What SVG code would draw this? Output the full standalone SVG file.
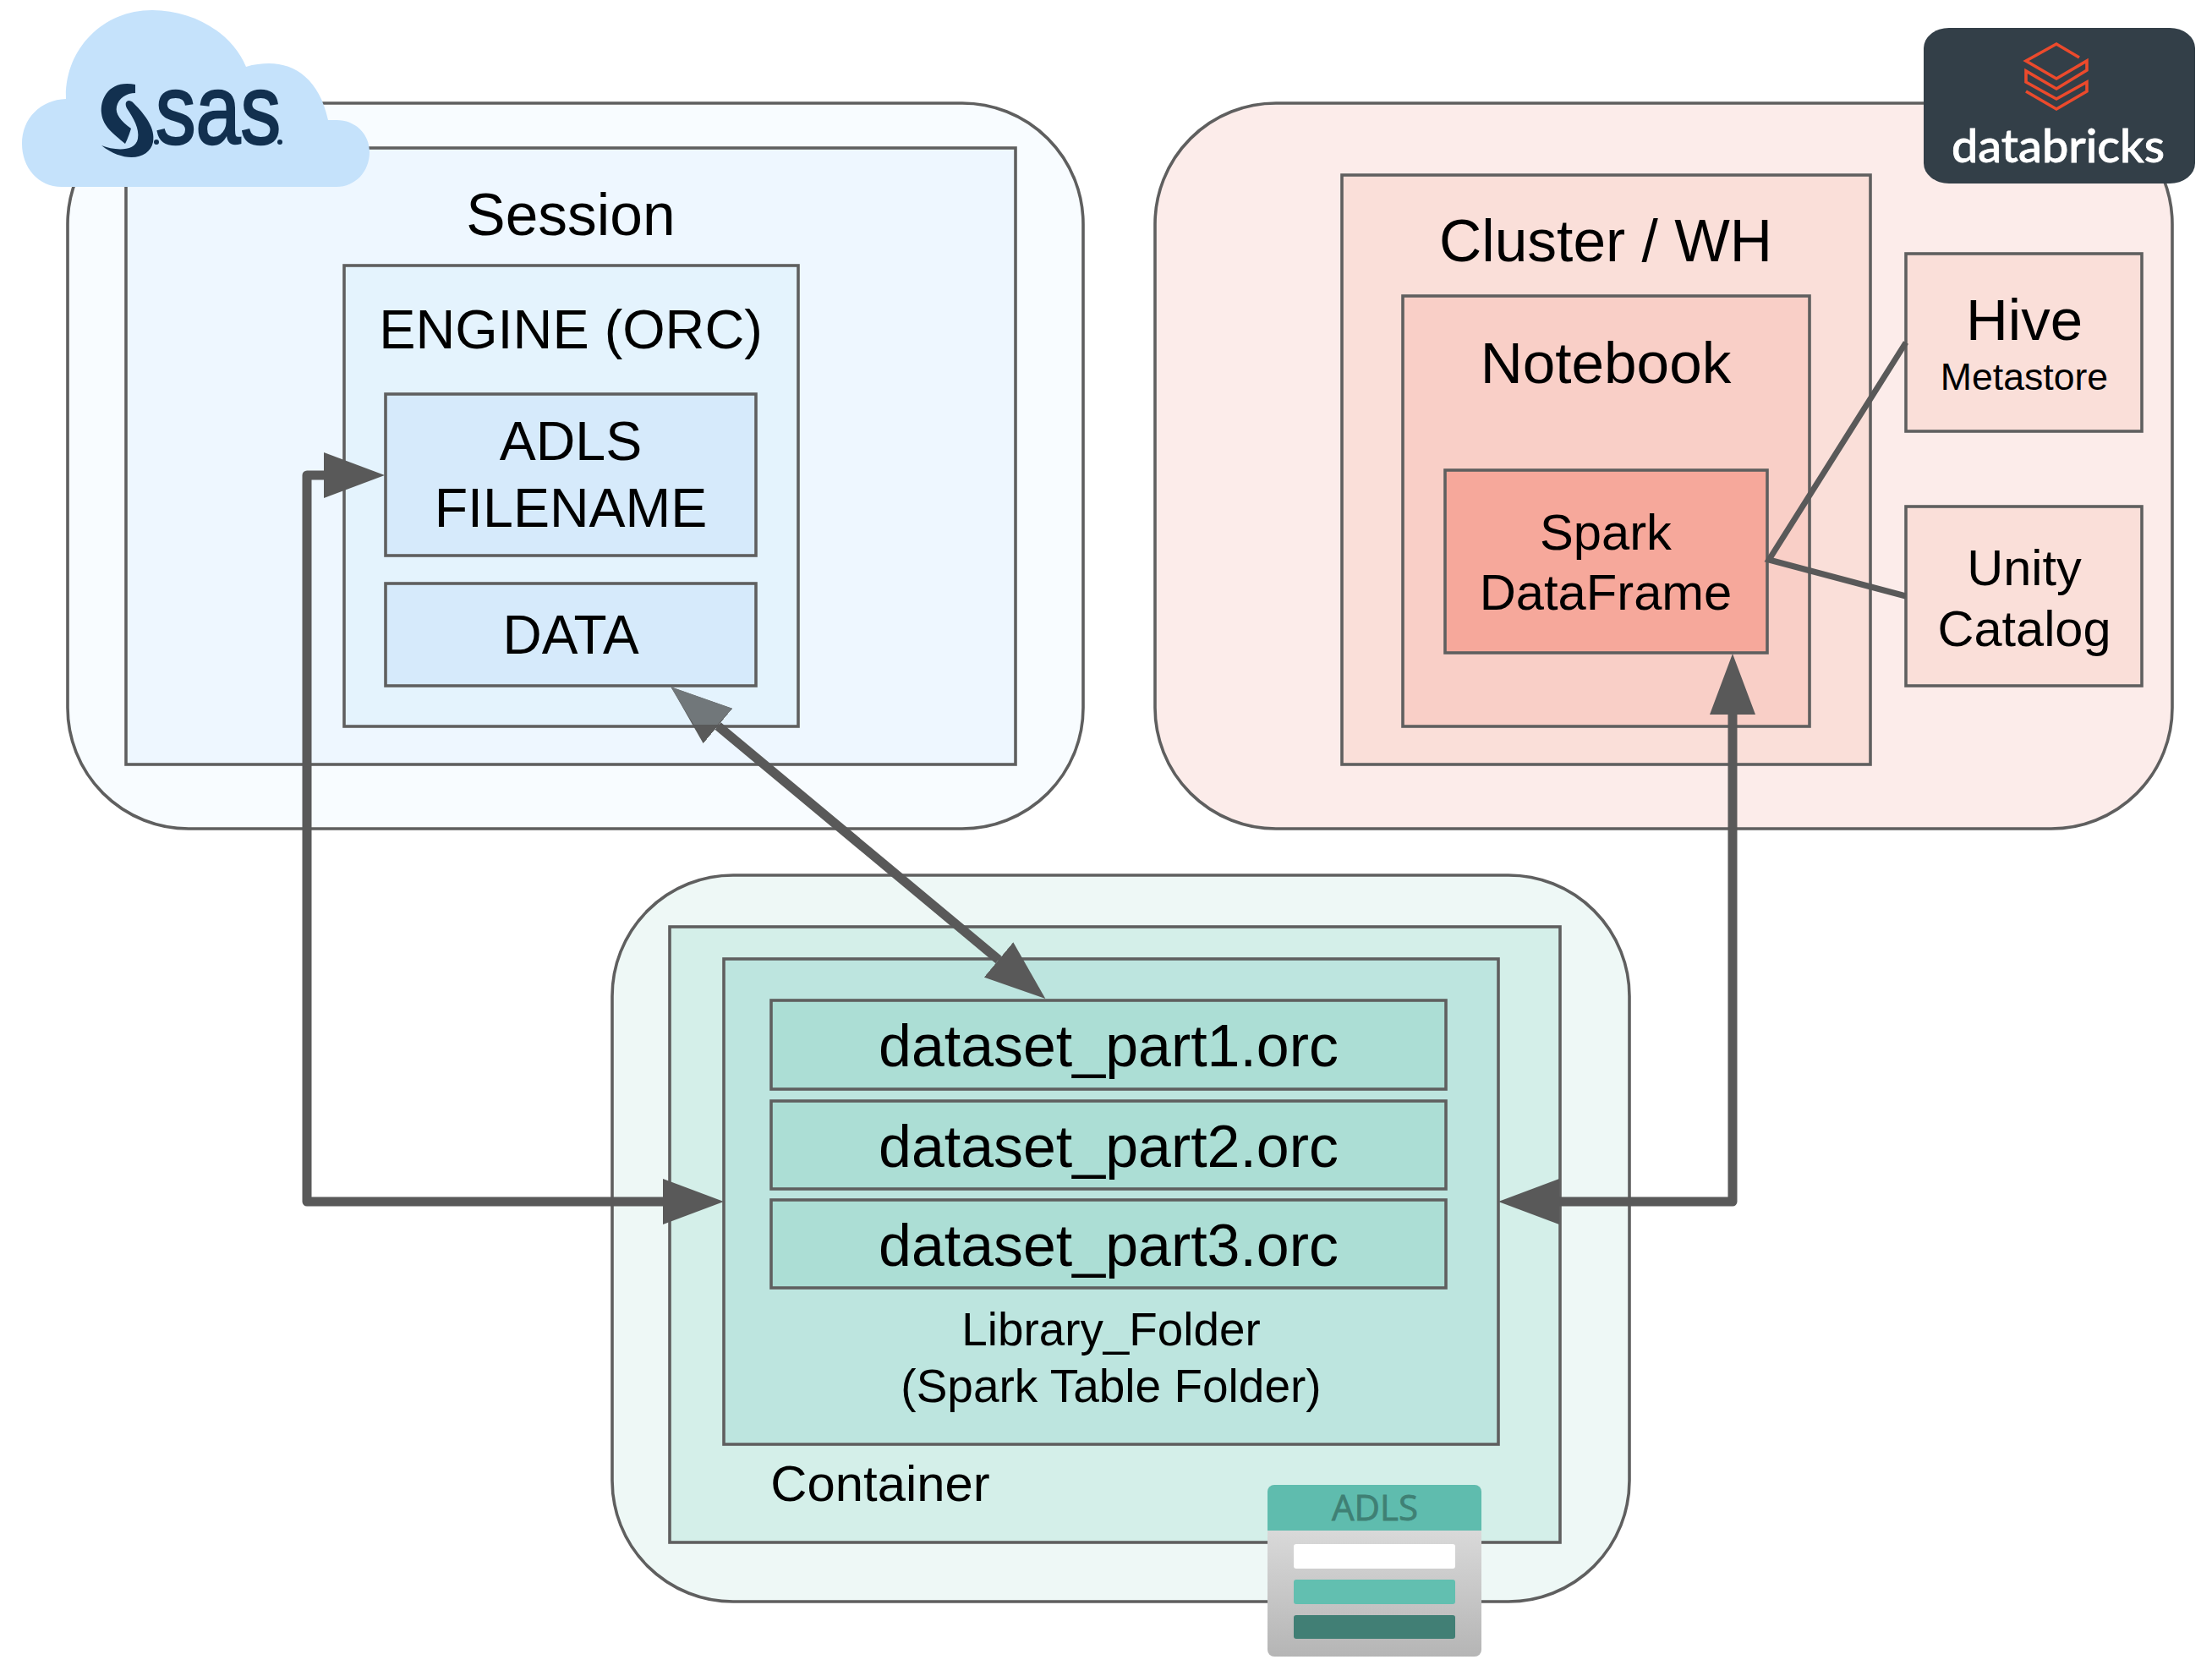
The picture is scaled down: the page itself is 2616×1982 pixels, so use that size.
<svg xmlns="http://www.w3.org/2000/svg" width="2616" height="1982" viewBox="0 0 2616 1982">
<style>
.b{stroke:#5f5f5f;stroke-width:3.6}
text{font-family:"Liberation Sans",Arial,sans-serif;fill:#000;text-anchor:middle}
.c{fill:none;stroke:#595959;stroke-width:11;stroke-linejoin:round}
.t{fill:none;stroke:#595959;stroke-width:7}
.o{fill:none;stroke:#ec4a2c;stroke-width:3.6}
</style>
<defs>
<marker id="arrow" markerUnits="userSpaceOnUse" markerWidth="74" markerHeight="54" viewBox="0 0 74 54" refX="0" refY="27" orient="auto-start-reverse"><path d="M0,0 L72,27 L0,54 Z" fill="#595959"/></marker>
<linearGradient id="gray" x1="0" y1="0" x2="0" y2="1"><stop offset="0" stop-color="#e6e6e6"/><stop offset="1" stop-color="#b5b5b5"/></linearGradient>
</defs>
<rect width="2616" height="1982" fill="#fff"/>
<g id="sas-env"><rect class="b" x="80" y="122" width="1201" height="858" rx="143" fill="#f8fcff"/></g>
<g id="session"><rect class="b" x="149" y="175" width="1052" height="729" fill="#eef7ff"/><text x="675" y="278" font-size="69.500">Session</text></g>
<g id="engine"><rect class="b" x="407" y="314" width="537" height="545" fill="#e4f3fd"/><text x="675" y="412" font-size="64.800">ENGINE (ORC)</text></g>
<g id="adls-filename"><rect class="b" x="456" y="466" width="438" height="191" fill="#d6eafb"/><text x="675" y="544" font-size="64.500">ADLS</text><text x="675" y="623" font-size="64.500">FILENAME</text></g>
<g id="data"><rect class="b" x="456" y="690" width="438" height="121" fill="#d6eafb"/><text x="675" y="773" font-size="64">DATA</text></g>
<g id="databricks-env"><rect class="b" x="1366" y="122" width="1203" height="858" rx="143" fill="#fcecea"/></g>
<g id="cluster"><rect class="b" x="1587" y="207" width="625" height="697" fill="#fadfd9"/><text x="1899" y="309" font-size="69.500">Cluster / WH</text></g>
<g id="notebook"><rect class="b" x="1659" y="350" width="481" height="509" fill="#f9cfc7"/><text x="1899" y="453" font-size="69.300">Notebook</text></g>
<g id="spark"><rect class="b" x="1709" y="556" width="381" height="216" fill="#f6a89b"/><text x="1899" y="650" font-size="59.700">Spark</text><text x="1899" y="721" font-size="59.700">DataFrame</text></g>
<g id="hive"><rect class="b" x="2254" y="300" width="279" height="210" fill="#fadfd9"/><text x="2394" y="402" font-size="69">Hive</text><text x="2394" y="461" font-size="44.600">Metastore</text></g>
<g id="unity"><rect class="b" x="2254" y="599" width="279" height="212" fill="#fadfd9"/><text x="2394" y="692" font-size="59.500">Unity</text><text x="2394" y="764" font-size="59.500">Catalog</text></g>
<g id="adls-env"><rect class="b" x="724" y="1035" width="1203" height="859" rx="143" fill="#eef8f6"/></g>
<g id="container"><rect class="b" x="792" y="1096" width="1053" height="728" fill="#d4efe9"/><text x="1041" y="1775" font-size="59.800">Container</text></g>
<g id="library"><rect class="b" x="856" y="1134" width="916" height="574" fill="#bde5df"/><text x="1314" y="1591" font-size="54.800">Library_Folder</text><text x="1314" y="1658" font-size="55">(Spark Table Folder)</text></g>
<g id="part1"><rect class="b" x="912" y="1183" width="798" height="105" fill="#acded5"/><text x="1311" y="1261" font-size="69.900">dataset_part1.orc</text></g>
<g id="part2"><rect class="b" x="912" y="1302" width="798" height="104" fill="#acded5"/><text x="1311" y="1380" font-size="69.900">dataset_part2.orc</text></g>
<g id="part3"><rect class="b" x="912" y="1419" width="798" height="104" fill="#acded5"/><text x="1311" y="1497" font-size="69.900">dataset_part3.orc</text></g>
<g id="connectors">
<path class="c" d="M383,562 H363 V1421 H784" marker-start="url(#arrow)" marker-end="url(#arrow)"/>
<path class="c" d="M2049,845 V1421 H1844" marker-start="url(#arrow)" marker-end="url(#arrow)"/>
<path class="c" d="M849,858.500 L1181,1135" marker-start="url(#arrow)" marker-end="url(#arrow)"/>
<path d="M793,812 L866,838 L848.600,857 L820.400,857 Z" fill="#71777a"/>
<path class="t" d="M2254,405 L2092,662 L2254,705"/>
</g>
<g id="sas-logo">
<path d="M73,221 C45,221 26,198 26,170 C26,140 48,118 78,117 C76,60 120,12 180,12 C230,12 275,40 291,79 C300,76 310,75 318,75 C350,75 378,95 388,142 L398,142 C420,142 437,158 437,180 C437,203 420,221 398,221 Z" fill="#c5e2fb"/>
<path d="M160,100 C130,94 118,116 120,134 C122,150 134,158 148,170 C152,162 153,158 155,152 C143,143 136,135 138,126 C140,116 150,110 160,110 Z" fill="#12304f"/>
<path d="M150,128 C146,120 152,116 158,122 C172,136 184,152 181,168 C177,188 148,194 120,172 C135,178 160,180 163,164 C165,152 158,140 150,128 Z" fill="#12304f"/>
<text x="258" y="170" font-size="116" textLength="148" lengthAdjust="spacingAndGlyphs" stroke="#12304f" stroke-width="2.500" style="fill:#12304f">sas</text>
<circle cx="185" cy="168" r="3" fill="#12304f"/><circle cx="331" cy="168" r="3" fill="#12304f"/>
</g>
<g id="databricks-logo">
<rect x="2275" y="33" width="321" height="184" rx="30" ry="24" fill="#333f48"/>
<path class="o" d="M2459,68 L2432,52 L2396,72 L2432,93 L2468,72 V83 L2432,105 L2396,84 V97 L2432,117 L2468,97 V108 L2432,129 L2396,108"/>
<text x="2434" y="192" font-size="54" textLength="252" lengthAdjust="spacingAndGlyphs" stroke="#fff" stroke-width="0.800" style="font-family:Lato,'Liberation Sans',sans-serif;font-weight:500;fill:#fff">databricks</text>
</g>
<g id="adls-logo">
<rect x="1499" y="1756" width="253" height="203" rx="8" fill="url(#gray)"/>
<path d="M1499,1810 V1764 a8,8 0 0 1 8,-8 H1744 a8,8 0 0 1 8,8 V1810 Z" fill="#5fbcae"/>
<text x="1626" y="1798" font-size="42" stroke="#3f8074" stroke-width="0.800" style="font-family:'Open Sans',sans-serif;fill:#3f8074">ADLS</text>
<rect x="1530" y="1826" width="191" height="29" rx="3" fill="#fff"/>
<rect x="1530" y="1868" width="191" height="29" rx="3" fill="#62bfb0"/>
<rect x="1530" y="1910" width="191" height="28" rx="3" fill="#417f75"/>
</g>
</svg>
